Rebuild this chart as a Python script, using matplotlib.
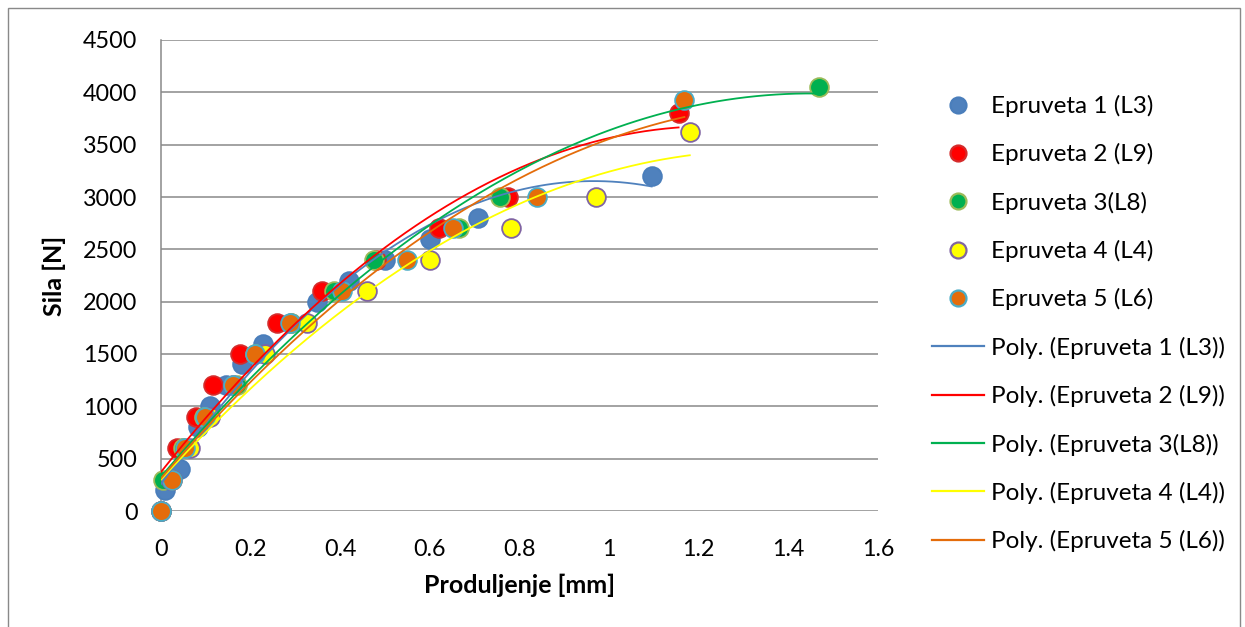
import numpy as np
import matplotlib
matplotlib.use("Agg")
import matplotlib.pyplot as plt
from matplotlib.patches import Rectangle
from matplotlib.lines import Line2D

plt.rcParams['font.family'] = ['Lato', 'DejaVu Sans']

# data (elongation mm, force N)
l3_x = [0, 0.01, 0.043, 0.05, 0.083, 0.11, 0.145, 0.18, 0.228, 0.29, 0.348, 0.42, 0.5, 0.6, 0.707, 1.095]
l3_y = [0, 200, 400, 600, 800, 1000, 1200, 1400, 1600, 1800, 2000, 2200, 2400, 2600, 2800, 3200]

l9_x = [0, 0.025, 0.036, 0.077, 0.117, 0.176, 0.258, 0.359, 0.48, 0.62, 0.775, 1.155]
l9_y = [0, 300, 600, 900, 1200, 1500, 1800, 2100, 2400, 2700, 3000, 3800]

l8_x = [0, 0.005, 0.05, 0.095, 0.17, 0.21, 0.29, 0.385, 0.475, 0.665, 0.757, 1.468]
l8_y = [0, 300, 600, 900, 1200, 1500, 1800, 2100, 2400, 2700, 3000, 4050]

l4_x = [0, 0.022, 0.065, 0.11, 0.16, 0.232, 0.325, 0.46, 0.6, 0.78, 0.97, 1.18]
l4_y = [0, 300, 600, 900, 1200, 1500, 1800, 2100, 2400, 2700, 3000, 3620]

l6_x = [0, 0.025, 0.054, 0.098, 0.161, 0.21, 0.288, 0.405, 0.548, 0.652, 0.84, 1.168]
l6_y = [0, 300, 600, 900, 1200, 1500, 1800, 2100, 2400, 2700, 3000, 3930]

names = ["Epruveta 1 (L3)", "Epruveta 2 (L9)", "Epruveta 3(L8)", "Epruveta 4 (L4)", "Epruveta 5 (L6)"]
series = [(l3_x, l3_y), (l9_x, l9_y), (l8_x, l8_y), (l4_x, l4_y), (l6_x, l6_y)]
fills = ["#4F81BD", "#FF0000", "#00B050", "#FFFF00", "#E46C0A"]
edges = ["#4A7EBB", "#D52B2B", "#9BBB59", "#8064A2", "#4BACC6"]
line_cols = ["#4F81BD", "#FF0000", "#00B050", "#FFFF00", "#E46C0A"]

fig = plt.figure(figsize=(12.45, 6.27), dpi=100)
fig.patches.append(Rectangle((8 / 1245, -0.05), 1232 / 1245, 1 - 8 / 627 + 0.05,
                             transform=fig.transFigure, fill=False,
                             edgecolor="#898989", linewidth=1.0))

ax = fig.add_axes([161 / 1245, 1 - 511 / 627, (878 - 161) / 1245, (511 - 40) / 627])

handles = []
for (x, y), f, e, n in zip(series, fills, edges, names):
    ax.plot(x, y, linestyle="none", marker="o", markersize=13.5, markerfacecolor=f,
            markeredgecolor=e, markeredgewidth=1.3, zorder=3, clip_on=False)
    handles.append(Line2D([], [], linestyle="none", marker="o", markersize=11.5,
                          markerfacecolor=f, markeredgecolor=e, markeredgewidth=1.6))

# 2nd order polynomial trendlines
for (x, y), c, n in zip(series, line_cols, names):
    p = np.polyfit(x, y, 2)
    xs = np.linspace(min(x), max(x), 200)
    ax.plot(xs, np.polyval(p, xs), color=c, linewidth=1.3, zorder=4)
    handles.append(Line2D([], [], color=c, linewidth=1.6))

labels = names + ["Poly. (" + n + ")" for n in names]

ax.set_xlim(0, 1.6)
ax.set_ylim(0, 4500)
ax.set_xticks(np.arange(0, 1.61, 0.2))
ax.set_xticklabels(["0", "0.2", "0.4", "0.6", "0.8", "1", "1.2", "1.4", "1.6"])
ax.set_yticks(range(0, 4501, 500))
ax.grid(axis="y", color="#898989", linewidth=1.1)
ax.set_axisbelow(True)
for s in ["top", "right", "bottom"]:
    ax.spines[s].set_visible(False)
ax.spines["left"].set_color("#898989")
ax.spines["left"].set_linewidth(1.1)
ax.tick_params(axis="both", length=0, labelsize=16.8, colors="black")
ax.tick_params(axis="x", pad=20)
ax.tick_params(axis="y", pad=17)

ax.set_xlabel("Produljenje [mm]", fontsize=18, fontweight="bold", labelpad=10)
ax.set_ylabel("Sila [N]", fontsize=18, fontweight="bold", labelpad=12)

fig.legend(handles, labels, loc="upper left", bbox_to_anchor=(932 / 1245, 1 - 95 / 627),
           frameon=False, fontsize=17.5, handlelength=2.14, handletextpad=0.29,
           labelspacing=1.08, borderaxespad=0, borderpad=0)

fig.savefig("out.png", dpi=100)
